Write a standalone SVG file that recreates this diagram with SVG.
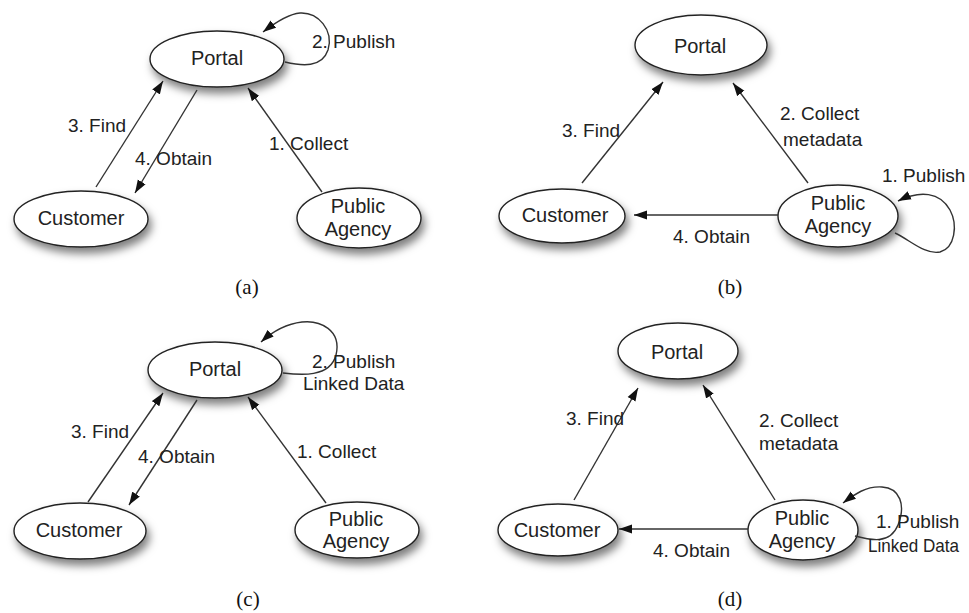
<svg xmlns="http://www.w3.org/2000/svg" width="969" height="613" viewBox="0 0 969 613">
  <defs>
    <filter id="shadow" x="-30%" y="-40%" width="170%" height="200%">
      <feDropShadow dx="3" dy="6" stdDeviation="4" flood-color="#000" flood-opacity="0.5"/>
    </filter>
    <marker id="arrow" markerUnits="userSpaceOnUse" markerWidth="14" markerHeight="10" refX="13" refY="5" orient="auto">
      <path d="M0,0.5 L13,5 L0,9.5 Z" fill="#111"/>
    </marker>
  </defs>
  <style>
    .node ellipse { fill: #fff; stroke: #222; stroke-width: 1.4; filter: url(#shadow); }
    .node text { font-family: "Liberation Sans", Arial, sans-serif; font-size: 20px; fill: #222; text-anchor: middle; }
    .edges path { fill: none; stroke: #333; stroke-width: 1.4; marker-end: url(#arrow); }
    .lbl { font-family: "Liberation Sans", Arial, sans-serif; font-size: 19px; fill: #222; }
    .cap { font-family: "Liberation Serif", "Times New Roman", serif; font-size: 21px; fill: #111; text-anchor: middle; }
  </style>
  <rect width="969" height="613" fill="#fff"/>

  <!-- (a) -->
  <g id="a-portal" class="node"><ellipse cx="217" cy="59" rx="67" ry="28"/><text x="217" y="65">Portal</text></g>
  <g id="a-customer" class="node"><ellipse cx="81" cy="219" rx="67" ry="28"/><text x="81" y="225">Customer</text></g>
  <g id="a-agency" class="node"><ellipse cx="359" cy="218" rx="62" ry="30"/><text x="358" y="213">Public</text><text x="358" y="236">Agency</text></g>
  <g id="a-edges" class="edges">
    <path d="M 285 62 C 302 66 322 68 328 50 C 334 30 318 12 300 13 C 288 14 276 22 263 32"/>
    <path d="M 96 187 L 163 81"/>
    <path d="M 197 90 L 135 193"/>
    <path d="M 322 192 L 248 88"/>
  </g>
  <text class="lbl" x="312" y="48">2. Publish</text>
  <text class="lbl" x="68" y="132">3. Find</text>
  <text class="lbl" x="135" y="165">4. Obtain</text>
  <text class="lbl" x="269" y="150">1. Collect</text>
  <text class="cap" x="247" y="294">(a)</text>

  <!-- (b) -->
  <g id="b-portal" class="node"><ellipse cx="701" cy="45" rx="66" ry="30"/><text x="700" y="53">Portal</text></g>
  <g id="b-customer" class="node"><ellipse cx="562" cy="216" rx="63" ry="27"/><text x="565" y="222">Customer</text></g>
  <g id="b-agency" class="node"><ellipse cx="838" cy="216" rx="60" ry="31"/><text x="838" y="210">Public</text><text x="838" y="233">Agency</text></g>
  <g id="b-edges" class="edges">
    <path d="M 895 233 C 910 240 925 255 940 252 C 955 248 958 225 950 210 C 940 192 920 190 898 201"/>
    <path d="M 582 183 L 663 82"/>
    <path d="M 808 183 L 733 83"/>
    <path d="M 778 215 L 634 215"/>
  </g>
  <text class="lbl" x="562" y="137">3. Find</text>
  <text class="lbl" x="780" y="120">2. Collect</text>
  <text class="lbl" x="783" y="146">metadata</text>
  <text class="lbl" x="882" y="182">1. Publish</text>
  <text class="lbl" x="673" y="243">4. Obtain</text>
  <text class="cap" x="730" y="294">(b)</text>

  <!-- (c) -->
  <g id="c-portal" class="node"><ellipse cx="215" cy="370" rx="67" ry="28"/><text x="215" y="376">Portal</text></g>
  <g id="c-customer" class="node"><ellipse cx="80" cy="531" rx="66" ry="28"/><text x="79" y="537">Customer</text></g>
  <g id="c-agency" class="node"><ellipse cx="357" cy="530" rx="62" ry="28"/><text x="356" y="526">Public</text><text x="356" y="548">Agency</text></g>
  <g id="c-edges" class="edges">
    <path d="M 283 373 C 300 375 330 378 336 355 C 342 330 320 320 302 322 C 285 324 272 332 261 342"/>
    <path d="M 88 502 L 163 393"/>
    <path d="M 197 400 L 129 505"/>
    <path d="M 326 503 L 248 397"/>
  </g>
  <text class="lbl" x="312" y="368">2. Publish</text>
  <text class="lbl" x="303" y="390">Linked Data</text>
  <text class="lbl" x="71" y="438">3. Find</text>
  <text class="lbl" x="138" y="463">4. Obtain</text>
  <text class="lbl" x="297" y="458">1. Collect</text>
  <text class="cap" x="248" y="606">(c)</text>

  <!-- (d) -->
  <g id="d-portal" class="node"><ellipse cx="678" cy="351" rx="60" ry="28"/><text x="677" y="359">Portal</text></g>
  <g id="d-customer" class="node"><ellipse cx="558" cy="530" rx="60" ry="26"/><text x="557" y="537">Customer</text></g>
  <g id="d-agency" class="node"><ellipse cx="803" cy="530" rx="55" ry="30"/><text x="802" y="525">Public</text><text x="802" y="548">Agency</text></g>
  <g id="d-edges" class="edges">
    <path d="M 855 536 C 870 540 890 545 898 525 C 906 505 900 488 882 487 C 866 486 855 494 843 503"/>
    <path d="M 574 500 L 638 388"/>
    <path d="M 775 500 L 703 385"/>
    <path d="M 748 529 L 619 529"/>
  </g>
  <text class="lbl" x="566" y="425">3. Find</text>
  <text class="lbl" x="759" y="427">2. Collect</text>
  <text class="lbl" x="759" y="450">metadata</text>
  <text class="lbl" x="876" y="528">1. Publish</text>
  <text class="lbl" x="868" y="552" textLength="91" lengthAdjust="spacingAndGlyphs">Linked Data</text>
  <text class="lbl" x="653" y="557">4. Obtain</text>
  <text class="cap" x="730" y="606">(d)</text>
</svg>
